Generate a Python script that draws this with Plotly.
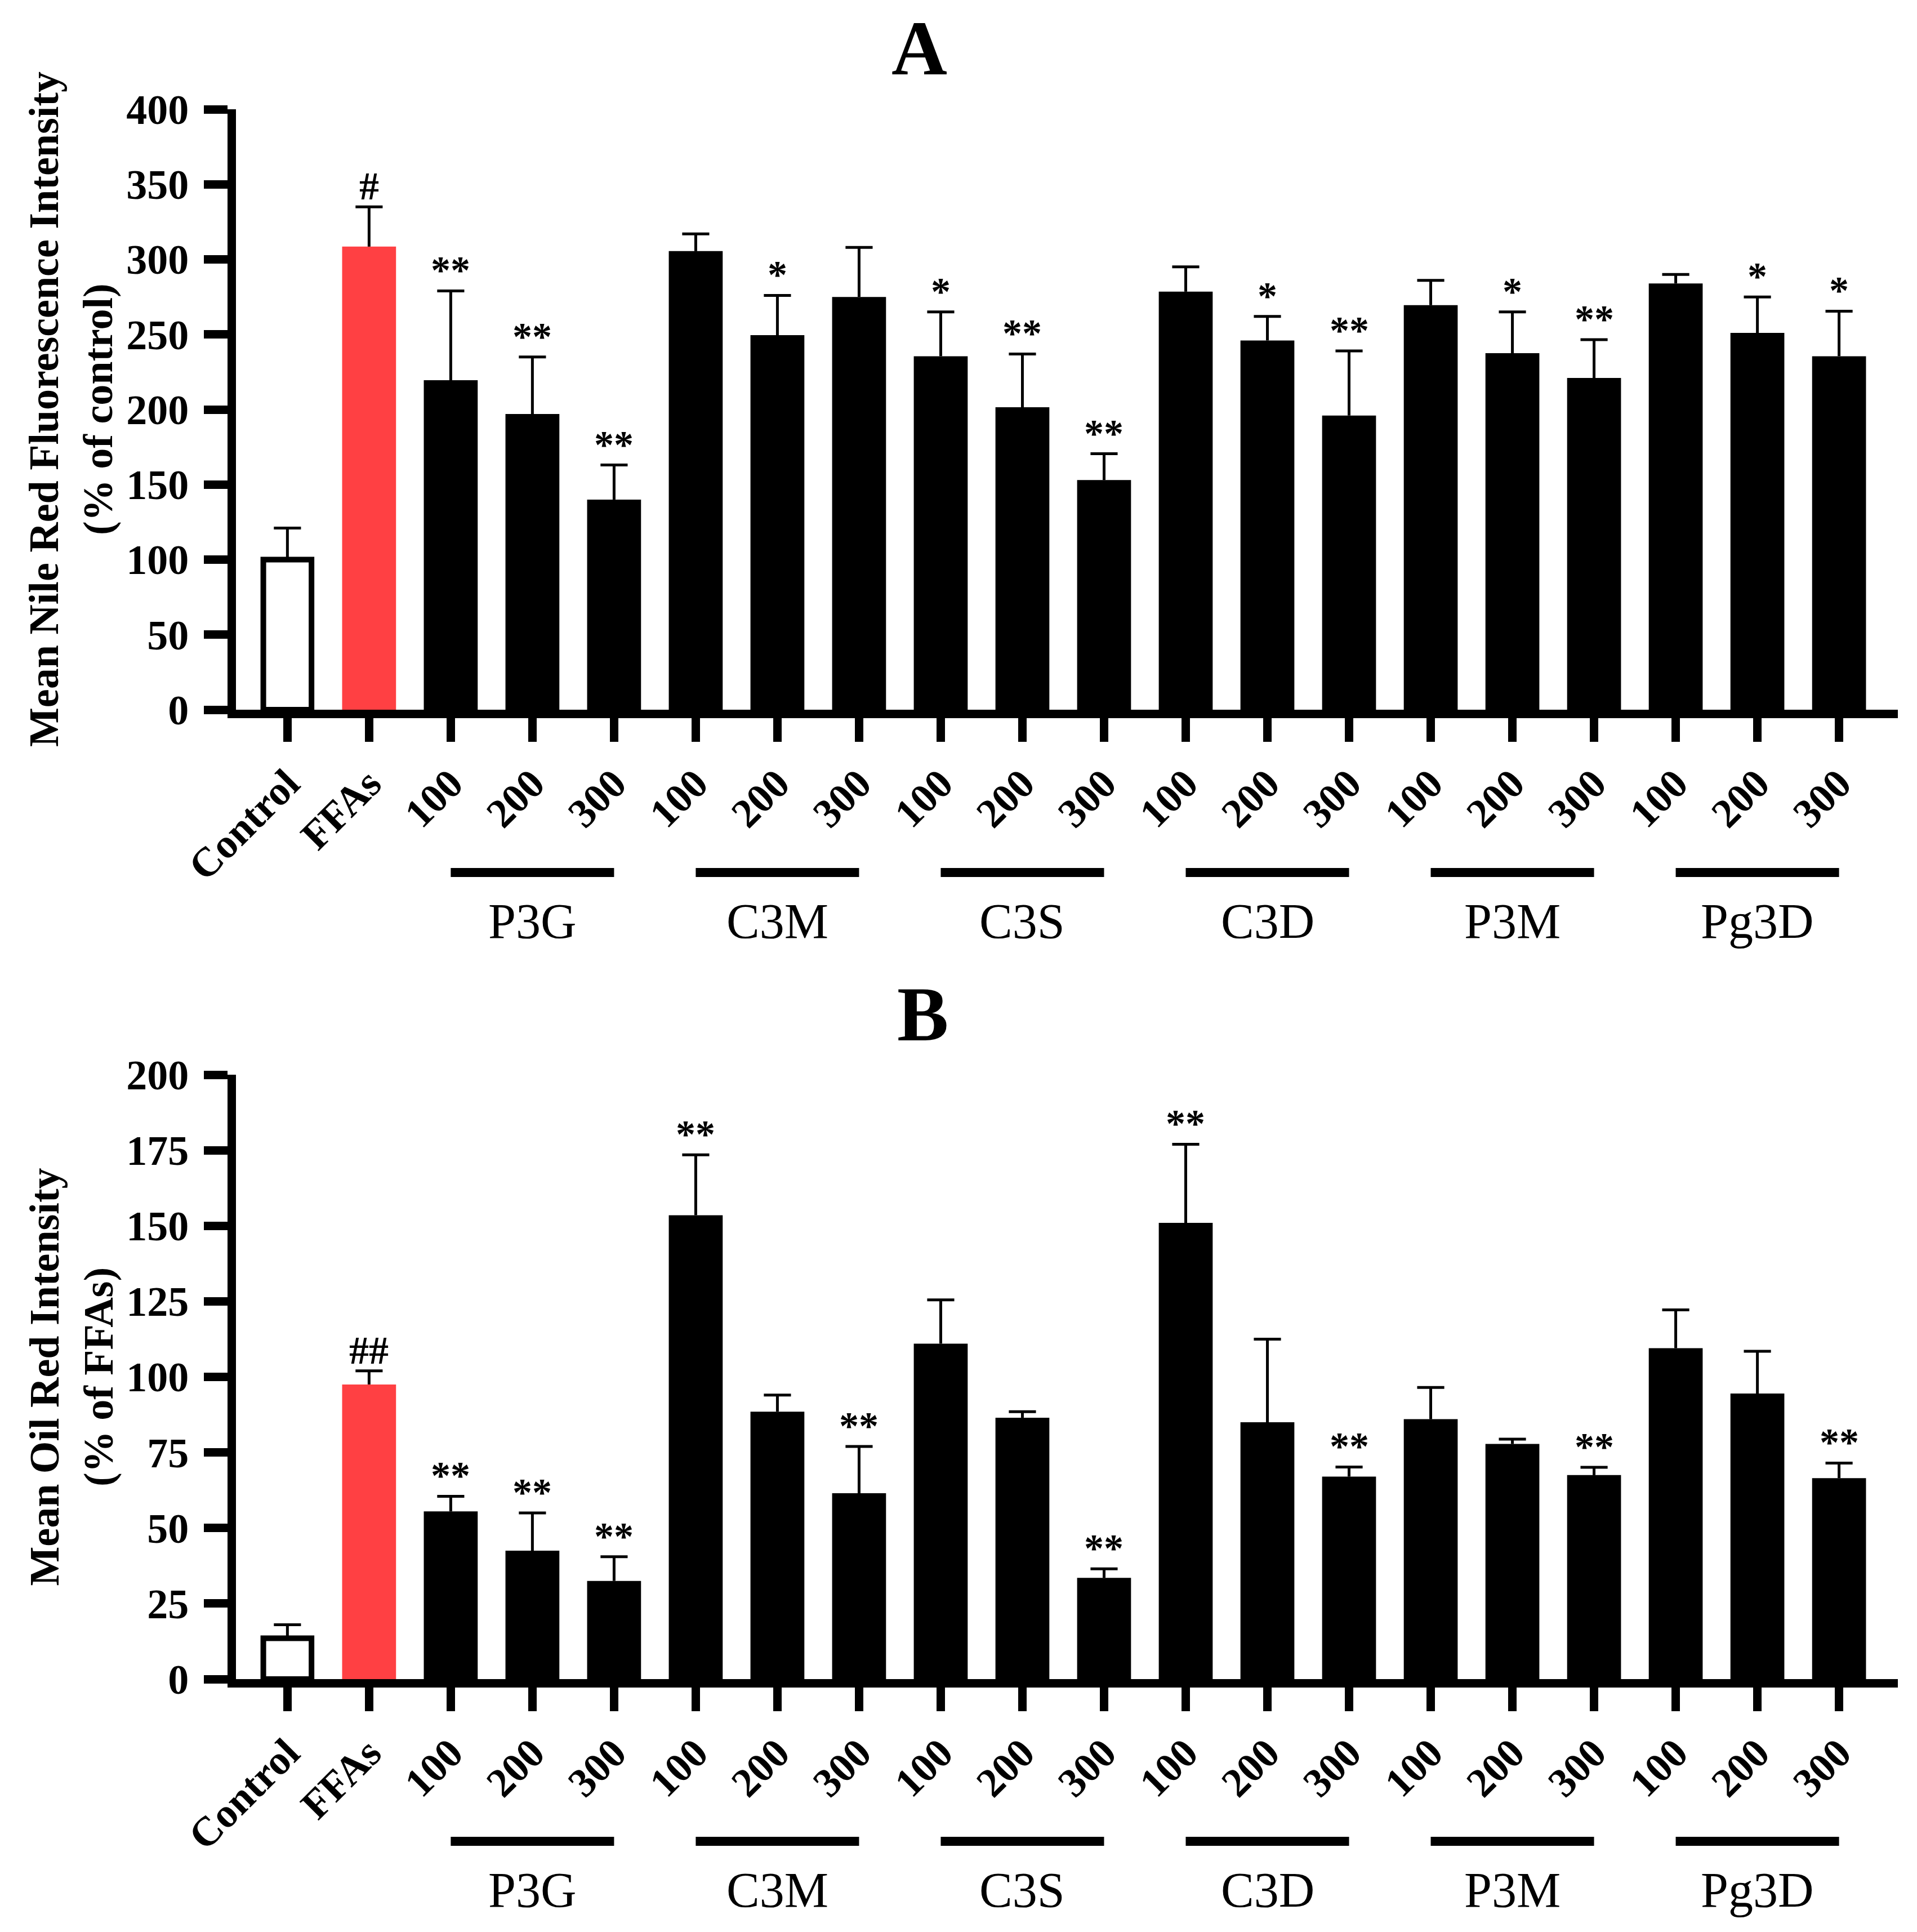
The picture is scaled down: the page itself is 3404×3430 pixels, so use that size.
import plotly.graph_objects as go

# ---------------- data ----------------
tick_labels = ["Control", "FFAs",
               "100", "200", "300", "100", "200", "300", "100", "200", "300",
               "100", "200", "300", "100", "200", "300", "100", "200", "300"]
groups = ["P3G", "C3M", "C3S", "C3D", "P3M", "Pg3D"]
group_start = [2, 5, 8, 11, 14, 17]
group_end = [4, 7, 10, 13, 16, 19]

a_means = [100, 308.5, 219.5, 197, 140, 305.5, 249.5, 275, 235.5, 201.5, 153,
           278.5, 246, 196, 269.5, 237.5, 221, 284, 251, 235.5]
a_err = [21, 26.5, 59.5, 38, 23, 11.5, 26.5, 33, 29.5, 35.5, 17.5,
         16.5, 16, 43, 16.5, 27.5, 25.5, 6, 24, 30]
a_sig = ["", "#", "**", "**", "**", "", "*", "", "*", "**", "**",
         "", "*", "**", "", "*", "**", "", "*", "*"]

b_means = [13.5, 97.5, 55.5, 42.5, 32.5, 153.5, 88.5, 61.5, 111, 86.5, 33.5,
           151, 85, 67, 86, 77.8, 67.5, 109.5, 94.5, 66.5]
b_err = [4.5, 4.5, 5, 12.5, 8, 20, 5.5, 15.5, 14.5, 2, 3,
         26, 27.5, 3.2, 10.5, 1.6, 2.6, 12.7, 14, 5]
b_sig = ["", "##", "**", "**", "**", "**", "", "**", "", "", "**",
         "**", "", "**", "", "", "**", "", "", "**"]

a_ytitle = "Mean Nile Red Fluorescence Intensity<br>(% of control)"
b_ytitle = "Mean Oil Red Intensity<br>(% of FFAs)"

# ---------------- style ----------------
W, H = 3404, 3430
FONT = "Liberation Serif"
RED = "#FF4043"
x_dom = [411 / W, 3362 / W]
a_dom = [1 - 1252 / H, 1 - 186 / H]
b_dom = [1 - 2973 / H, 1 - 1900 / H]
xs = list(range(len(tick_labels)))

fill = ["white", RED] + ["black"] * (len(xs) - 2)
lw = [10] + [0] * (len(xs) - 1)
widths = [0.59] + [0.66] * (len(xs) - 1)

fig = go.Figure()


def add_panel(means, errs, xa, ya):
    fig.add_trace(go.Bar(x=xs, y=means, width=widths,
                         marker=dict(color=fill, line=dict(color="black", width=lw)),
                         xaxis=xa, yaxis=ya, hoverinfo="skip"))
    ex, ey = [], []
    cw = 0.166
    for i, (m, e) in enumerate(zip(means, errs)):
        ex += [i, i, None, i - cw, i + cw, None]
        ey += [m, m + e, None, m + e, m + e, None]
    fig.add_trace(go.Scatter(x=ex, y=ey, mode="lines",
                             line=dict(color="black", width=5),
                             xaxis=xa, yaxis=ya, hoverinfo="skip"))


add_panel(a_means, a_err, "x", "y")
add_panel(b_means, b_err, "x2", "y2")

axis_common = dict(showline=True, linewidth=15, linecolor="black",
                   ticks="outside", ticklen=42, tickwidth=15, tickcolor="black",
                   showgrid=False, zeroline=False, automargin=False)
xcommon = dict(axis_common, range=[-0.63, 19.72], tickvals=xs, ticktext=tick_labels,
               tickangle=-45, domain=x_dom, ticklabelstandoff=2,
               tickfont=dict(family=FONT, size=73, color="black", weight="bold"))
fig.update_layout(
    width=W, height=H, margin=dict(l=0, r=0, t=0, b=0, autoexpand=False),
    paper_bgcolor="white", plot_bgcolor="white", showlegend=False,
    xaxis=dict(xcommon, anchor="y"),
    xaxis2=dict(xcommon, anchor="y2"),
    yaxis=dict(axis_common, range=[0, 400], dtick=50, domain=a_dom, anchor="x",
               ticklabelstandoff=12,
               tickfont=dict(family=FONT, size=74, color="black", weight="bold")),
    yaxis2=dict(axis_common, range=[0, 200], dtick=25, domain=b_dom, anchor="x2",
                ticklabelstandoff=12,
                tickfont=dict(family=FONT, size=74, color="black", weight="bold")),
)

ann = []
shapes = []
for xa, ya, means, errs, sig, title, tx, ytitle, gy_line, gy_text, ty in [
    ("x", "y", a_means, a_err, a_sig, "A", 1624 / W, a_ytitle,
     1 - 1541 / H, 1 - 1627 / H, 1 - 78 / H),
    ("x2", "y2", b_means, b_err, b_sig, "B", 1630 / W, b_ytitle,
     1 - 3261 / H, 1 - 3347 / H, 1 - 1793 / H),
]:
    for i, (m, e, s) in enumerate(zip(means, errs, sig)):
        if s:
            ann.append(dict(x=i, y=m + e, xref=xa, yref=ya, text=s, showarrow=False,
                            yanchor="bottom", yshift=-4,
                            font=dict(family=FONT, size=70, color="black", weight="bold")))
    for g, s0, s1 in zip(groups, group_start, group_end):
        shapes.append(dict(type="line", xref=xa, yref="paper", x0=s0, x1=s1,
                           y0=gy_line, y1=gy_line, line=dict(color="black", width=16)))
        ann.append(dict(x=(s0 + s1) / 2, y=gy_text, xref=xa, yref="paper", text=g,
                        showarrow=False, yanchor="middle",
                        font=dict(family=FONT, size=88, color="black")))
    ann.append(dict(x=tx, y=ty, xref="paper", yref="paper", text=title,
                    showarrow=False, yanchor="middle", xanchor="center",
                    font=dict(family=FONT, size=137, color="black", weight="bold")))
    ann.append(dict(x=118 / W, y=0.5, xref="paper", yref=ya + " domain", text=ytitle,
                    showarrow=False, textangle=-90, xanchor="center", yanchor="middle",
                    font=dict(family=FONT, size=74, color="black", weight="bold")))

fig.update_layout(annotations=ann, shapes=shapes)
fig.write_html("out.html")
